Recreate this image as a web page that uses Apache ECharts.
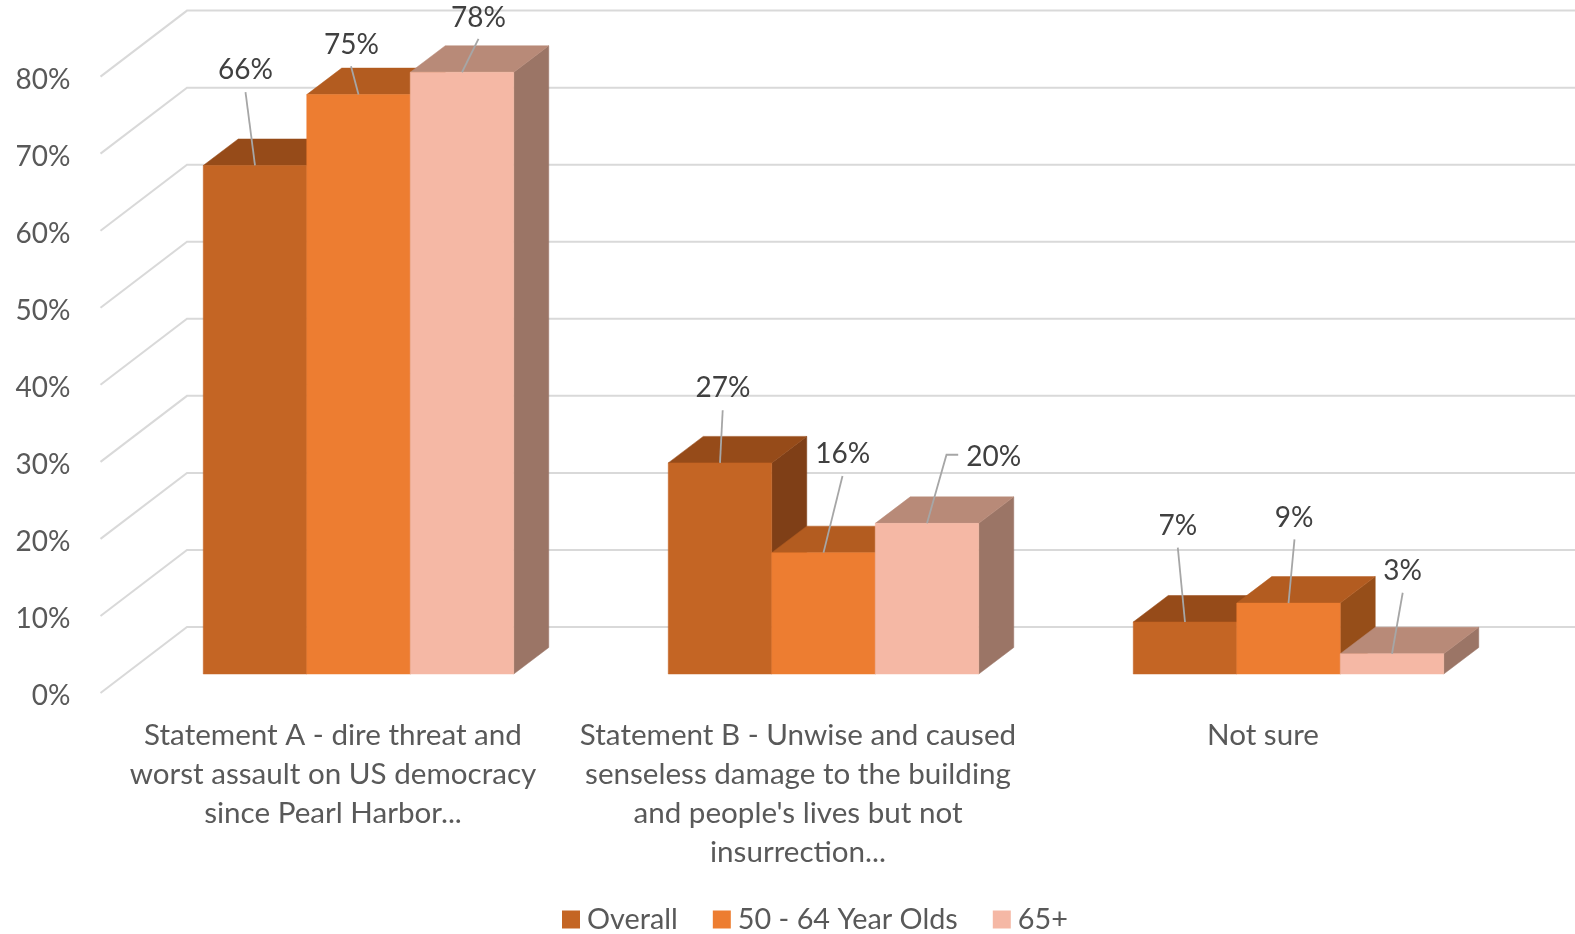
<!DOCTYPE html>
<html>
<head>
<meta charset="utf-8">
<style>html,body{margin:0;padding:0;background:#fff}#c{width:1575px;height:934px}</style>
<script src="https://cdn.jsdelivr.net/npm/echarts@6/dist/echarts.min.js"></script>
</head>
<body>
<div id="c"></div>
<script>
const categories = [
  "Statement A - dire threat and\nworst assault on US democracy\nsince Pearl Harbor...",
  "Statement B - Unwise and caused\nsenseless damage to the building\nand people's lives but not\ninsurrection...",
  "Not sure"
];
const yTicks = [0, 10, 20, 30, 40, 50, 60, 70, 80];
const seriesNames = ["Overall", "50 - 64 Year Olds", "65+"];
const overall = [66, 27.4, 6.75];
const age50to64 = [75.2, 15.75, 9.2];
const age65plus = [78.1, 19.55, 2.63];

// Styling: front, top and side face colours per series
const faces = [
  { front: "#C46524", top: "#964B19", side: "#7F3F17" },
  { front: "#ED7D31", top: "#B35C20", side: "#964E19" },
  { front: "#F5B8A5", top: "#B88A78", side: "#9B7566" }
];
// Layout: callout offsets from each bar's top-front centre [labelX, labelY, [leader points...]]
const callouts = [
  [[-9.5, -95.4, [[-9.5, -73.4]]], [3, -74.5, [[2.7, -52.7]]], [-7.2, -96, [[-7.2, -74.3]]]],
  [[-7, -50, [[-7.5, -28.3]]], [19.3, -98.7, [[19, -76.7]]], [5.7, -84.7, [[6, -63.7]]]],
  [[16.5, -54.5, [[16.5, -33.3]]], [66.8, -66.3, [[31.2, -68.6], [19.5, -68.6]]], [10.7, -82.7, [[10.7, -61]]]]
];
const seriesValues = [overall, age50to64, age65plus];

const BAR_RATIO = 103.5 / 465, DEPTH_X = 35, DEPTH_Y = 26.5;
const WALL_X = 86.5, WALL_Y = 66, WALL_LABEL_SHIFT = 3;
const FONT = "Lato, Carlito, sans-serif";

function barGeom(api, si, cat, val) {
  const base = api.coord([cat, 0]);
  const top = api.coord([cat, val]);
  const band = api.size([1, 0])[0];
  const w = band * BAR_RATIO;
  const x0 = base[0] + (si - 1.5) * w;
  return { x0, x1: x0 + w, yb: base[1], yt: top[1], w };
}
function poly(points, fill) {
  return { type: "polygon", shape: { points }, style: { fill, stroke: fill, lineWidth: 0.5 } };
}
function renderBar(si) {
  return function (params, api) {
    const g = barGeom(api, si, api.value(0), api.value(1));
    const f = faces[si];
    return {
      type: "group",
      children: [
        poly([[g.x1, g.yb], [g.x1 + DEPTH_X, g.yb - DEPTH_Y], [g.x1 + DEPTH_X, g.yt - DEPTH_Y], [g.x1, g.yt]], f.side),
        poly([[g.x0, g.yt], [g.x0 + DEPTH_X, g.yt - DEPTH_Y], [g.x1 + DEPTH_X, g.yt - DEPTH_Y], [g.x1, g.yt]], f.top),
        poly([[g.x0, g.yb], [g.x1, g.yb], [g.x1, g.yt], [g.x0, g.yt]], f.front)
      ]
    };
  };
}
function renderCallouts(si) {
  return function (params, api) {
    const cat = api.value(0), val = api.value(1);
    const g = barGeom(api, si, cat, val);
    const cx = (g.x0 + g.x1) / 2;
    const c = callouts[si][cat];
    const pts = c[2].map(p => [cx + p[0], g.yt + p[1]]);
    pts.push([cx, g.yt]);
    return {
      type: "group",
      children: [
        { type: "polyline", shape: { points: pts }, style: { stroke: "#A6A6A6", lineWidth: 1.8, fill: null } },
        { type: "text", style: { x: cx + c[0], y: g.yt + c[1], text: Math.round(val) + "%", align: "center", verticalAlign: "middle", font: "28px " + FONT, fill: "#404040" } }
      ]
    };
  };
}
function renderWall(params, api) {
  const p = api.coord([0, api.value(0)]);
  const x0 = params.coordSys.x;
  const y = p[1] - WALL_LABEL_SHIFT;
  return {
    type: "polyline",
    shape: { points: [[x0, y], [x0 + WALL_X, y - WALL_Y], [api.getWidth(), y - WALL_Y]] },
    style: { stroke: "#D9D9D9", lineWidth: 2, fill: null }
  };
}

const series = [{
  type: "custom", xAxisIndex: 0, yAxisIndex: 0, renderItem: renderWall, silent: true, z: 1,
  encode: { y: 0 }, data: yTicks.map(v => [v])
}];
seriesNames.forEach((name, si) => {
  series.push({
    name, type: "custom", xAxisIndex: 1, yAxisIndex: 1, z: 2 + si, renderItem: renderBar(si),
    itemStyle: { color: faces[si].front }, encode: { x: 0, y: 1 },
    data: seriesValues[si].map((v, i) => [i, v])
  });
});
seriesNames.forEach((name, si) => {
  series.push({
    type: "custom", xAxisIndex: 1, yAxisIndex: 1, z: 10, renderItem: renderCallouts(si), silent: true,
    encode: { x: 0, y: 1 }, data: seriesValues[si].map((v, i) => [i, v])
  });
});

const chart = echarts.init(document.getElementById("c"), null, { renderer: "canvas" });
chart.setOption({
  animation: false,
  backgroundColor: "#fff",
  grid: [
    { left: 100.5, top: 79.6, width: 1395, height: 616.4 },
    { left: 126, top: 57.6, width: 1395, height: 616.4 }
  ],
  xAxis: [
    { type: "category", gridIndex: 0, data: categories, axisLine: { show: false }, axisTick: { show: false },
      axisLabel: { interval: 0, margin: 20, color: "#595959", fontFamily: FONT, fontSize: 29.6, lineHeight: 39, align: "center" } },
    { type: "category", gridIndex: 1, data: categories, axisLine: { show: false }, axisTick: { show: false }, axisLabel: { show: false } }
  ],
  yAxis: [
    { type: "value", gridIndex: 0, min: 0, max: 80, interval: 10, axisLine: { show: false }, axisTick: { show: false }, splitLine: { show: false },
      axisLabel: { margin: 30, color: "#595959", fontFamily: FONT, fontSize: 28, formatter: v => yTicks.includes(v) ? v + "%" : "" } },
    { type: "value", gridIndex: 1, min: 0, max: 80, interval: 10, axisLine: { show: false }, axisTick: { show: false }, splitLine: { show: false }, axisLabel: { show: false } }
  ],
  legend: {
    data: seriesNames, left: 562, top: 905, padding: 0, icon: "rect", itemWidth: 18, itemHeight: 18, itemGap: 35,
    selectedMode: false,
    textStyle: { color: "#595959", fontFamily: FONT, fontSize: 28.8, padding: [0, 0, 0, 2] }
  },
  series
});
</script>
</body>
</html>
